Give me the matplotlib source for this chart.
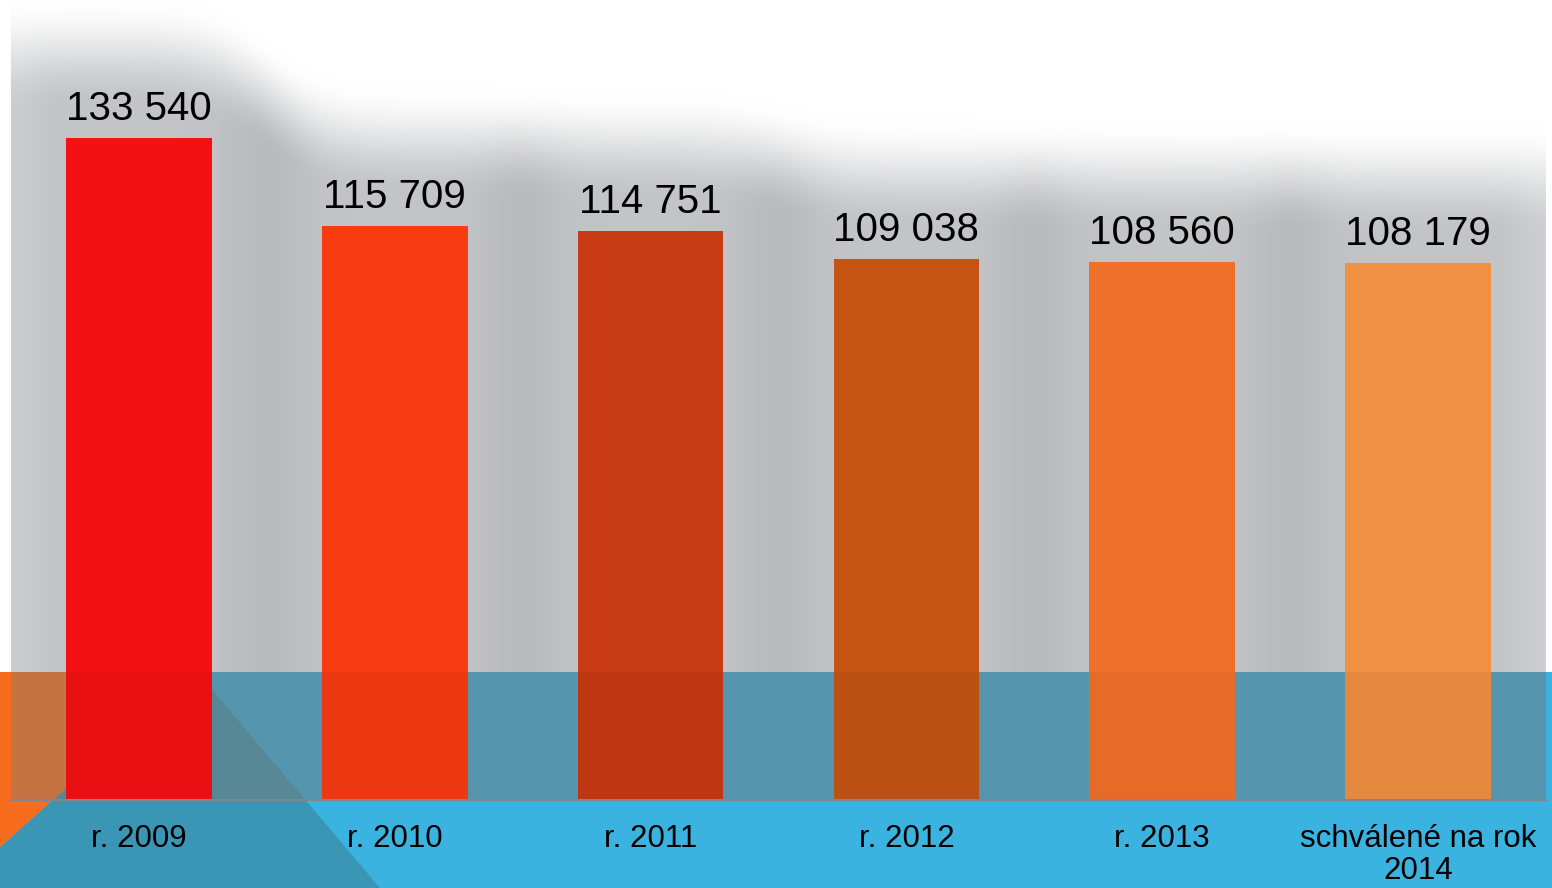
import numpy as np
import matplotlib.pyplot as plt
from matplotlib.patches import Rectangle, Polygon

plt.rcParams["font.family"] = ["Liberation Sans", "DejaVu Sans"]

categories = ["r. 2009", "r. 2010", "r. 2011", "r. 2012", "r. 2013", "schválené na rok\n2014"]
values = [133540, 115709, 114751, 109038, 108560, 108179]
bar_colors = ["#f41114", "#f83c12", "#c83a12", "#c55413", "#f07029", "#f09042"]

W, H = 1552, 888
PLOT_L, PLOT_R, BASE, BAND = 11, 1546, 799, 672

fig = plt.figure(figsize=(W / 100, H / 100), dpi=100)
fig.patch.set_facecolor("white")

# background layer in pixel coordinates
bg = fig.add_axes([0, 0, 1, 1], zorder=0)
bg.set_xlim(0, W)
bg.set_ylim(H, 0)
bg.axis("off")

# data axes
ax = fig.add_axes([PLOT_L / W, (H - BASE) / H, (PLOT_R - PLOT_L) / W, BASE / H], zorder=2)
ax.patch.set_alpha(0)
x = np.arange(len(values))
ax.bar(x, values, width=0.57, color=bar_colors, zorder=2)
ax.set_xlim(-0.5, len(values) - 0.5)
ax.set_ylim(0, 161400)

for i, v in enumerate(values):
    ax.annotate(f"{v:,}".replace(",", " "), (i, v), xytext=(0, 13),
                textcoords="offset points", ha="center", va="baseline",
                fontsize=29, color="black")

ax.set_xticks(x, categories, fontsize=22.5, linespacing=1.1)
ax.tick_params(axis="x", length=0, pad=18)
ax.set_yticks([])
for s in ax.spines.values():
    s.set_visible(False)

# soft grey glow behind the bars, following the bar tops
disp = ax.transData.transform(np.column_stack([x, values]))
tops = H - disp[:, 1]
xs = np.arange(W) + 0.5
step = (PLOT_R - PLOT_L) / len(values)
slot = np.clip(((xs - PLOT_L) // step).astype(int), 0, len(values) - 1)
edge = tops[slot] - 95
k = np.exp(-0.5 * (np.arange(-150, 151) / 50) ** 2)
k /= k.sum()
edge_s = np.convolve(np.pad(edge, 150, mode="edge"), k, mode="valid")

ys = np.arange(H)[:, None] + 0.5
t = np.clip((ys - (edge_s[None, :] - 45)) / 110, 0, 1)
a = t * t * (3 - 2 * t)

g = np.full(W, 0.775)
for i in range(len(values) - 1):
    c = PLOT_L + step * (i + 1)
    g -= 0.04 * np.exp(-((xs - c) / 40) ** 2)
g += 0.035 * np.exp(-((xs - PLOT_L) / 30) ** 2) + 0.04 * np.exp(-((xs - PLOT_R) / 30) ** 2)
col = np.stack([g - 0.01, g - 0.006, g + 0.005], axis=-1)
img = 1 - a[..., None] * (1 - col[None, :, :])
outside = (xs < PLOT_L) | (xs > PLOT_R)
img[:, outside, :] = 1.0
bg.imshow(np.clip(img, 0, 1), extent=(0, W, H, 0), aspect="auto",
          interpolation="bilinear", zorder=0)

# blue band and corner triangles
bg.add_patch(Rectangle((0, BAND), W, H - BAND, color="#3ab3e0", lw=0, zorder=1))
dark = [(197, BAND), (380, H), (0, H), (0, 847)]
orange = [(0, BAND), (197, BAND), (0, 847)]
bg.add_patch(Polygon(dark, closed=True, color="#3a96b4", lw=0, zorder=2))
bg.add_patch(Polygon(orange, closed=True, color="#f76d1d", lw=0, zorder=2))
inner = Rectangle((PLOT_L, BAND), PLOT_R - PLOT_L, BASE - BAND, color="#599db6", lw=0, zorder=3)
bg.add_patch(inner)
for pts, c in [(dark, "#5b8f9d"), (orange, "#cf7945")]:
    p = Polygon(pts, closed=True, color=c, lw=0, zorder=4)
    bg.add_patch(p)
    p.set_clip_path(inner)

# overlay: slight darkening of the band over the bars + baseline
ov = fig.add_axes([0, 0, 1, 1], zorder=3)
ov.set_xlim(0, W)
ov.set_ylim(H, 0)
ov.axis("off")
ov.patch.set_alpha(0)
ov.add_patch(Rectangle((PLOT_L, BAND), PLOT_R - PLOT_L, BASE - BAND, color="black", alpha=0.045, lw=0))
ov.plot([PLOT_L, PLOT_R], [BASE + 1, BASE + 1], color="#80878c", lw=1.5)

fig.savefig("out.png", dpi=100)
